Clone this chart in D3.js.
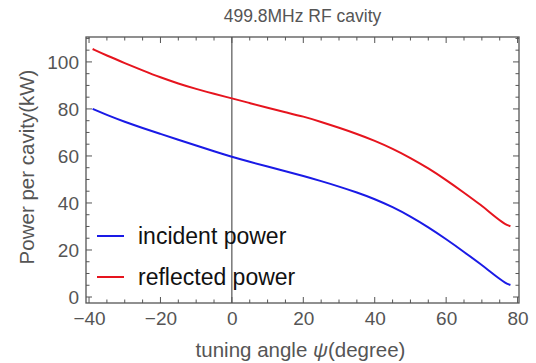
<!DOCTYPE html>
<html><head><meta charset="utf-8">
<script src="https://cdn.jsdelivr.net/npm/d3@7"></script>
<style>html,body{margin:0;padding:0;background:#fff;} svg{display:block;}</style>
</head><body>
<script>
const angles    = [-39, -35, -30, -25, -20, -15, -10, -5, 0, 5, 10, 15, 20, 25, 30, 35, 40, 45, 50, 55, 60, 65, 70, 72, 74, 76, 77, 78];
const incident  = [80, 77.4, 74.5, 71.9, 69.4, 66.9, 64.4, 62, 59.6, 57.5, 55.5, 53.5, 51.5, 49.3, 47, 44.5, 41.7, 38.3, 34.3, 29.7, 24.6, 19.2, 13.6, 11.2, 8.8, 6.6, 5.6, 5.1];
const reflected = [105.5, 102.7, 99.5, 96.4, 93.4, 90.8, 88.5, 86.4, 84.5, 82.5, 80.5, 78.6, 76.8, 74.5, 72, 69.4, 66.5, 63.1, 59.2, 54.8, 49.8, 44.4, 38.8, 36.3, 33.8, 31.5, 30.6, 30.1];
const xTickValues = [-40, -20, 0, 20, 40, 60, 80];
const yTickValues = [0, 20, 40, 60, 80, 100];
const seriesNames = ["incident power", "reflected power"];
const seriesColors = ["#1a1ae6", "#e6141e"];

const W = 536, H = 363;
const L = 86, R = 519, T = 37, B = 303;
const svg = d3.select("body").append("svg").attr("width", W).attr("height", H);
const x = d3.scaleLinear().domain([-40.85, 80.4]).range([L, R]);
const y = d3.scaleLinear().domain([-2.55, 110.6]).range([B, T]);
const gray = "#555";
const font = "'Liberation Sans', Arial, Helvetica, sans-serif";

// vertical line at 0
svg.append("line").attr("x1", x(0)).attr("x2", x(0)).attr("y1", T).attr("y2", B)
  .attr("stroke", "#333").attr("stroke-width", 1);

const line = d3.line().x((d, i) => x(angles[i])).y(d => y(d)).curve(d3.curveBasis);
[incident, reflected].forEach((s, k) => {
  svg.append("path").attr("d", line(s)).attr("fill", "none")
    .attr("stroke", seriesColors[k]).attr("stroke-width", 2);
});

// frame ticks
const minorX = d3.range(-40, 81, 5);
const minorY = d3.range(0, 111, 5);
const tk = svg.append("g").attr("stroke", gray).attr("stroke-width", 1);
minorX.forEach(v => {
  const len = xTickValues.includes(v) ? 6 : 3.5;
  tk.append("line").attr("x1", x(v)).attr("x2", x(v)).attr("y1", B).attr("y2", B - len);
  tk.append("line").attr("x1", x(v)).attr("x2", x(v)).attr("y1", T).attr("y2", T + len);
});
minorY.forEach(v => {
  const len = yTickValues.includes(v) ? 6 : 3.5;
  tk.append("line").attr("y1", y(v)).attr("y2", y(v)).attr("x1", L).attr("x2", L + len);
  tk.append("line").attr("y1", y(v)).attr("y2", y(v)).attr("x1", R).attr("x2", R - len);
});
svg.append("rect").attr("x", L).attr("y", T).attr("width", R - L).attr("height", B - T)
  .attr("fill", "none").attr("stroke", gray).attr("stroke-width", 1.3);

// tick labels via d3 axes (no lines)
const xa = svg.append("g").attr("transform", `translate(0,${B})`)
  .call(d3.axisBottom(x).tickValues(xTickValues).tickSize(0).tickPadding(9)
    .tickFormat(d => d < 0 ? "\u2212" + Math.abs(d) : d));
const ya = svg.append("g").attr("transform", `translate(${L},0)`)
  .call(d3.axisLeft(y).tickValues(yTickValues).tickSize(0).tickPadding(7));
[xa, ya].forEach(g => {
  g.select(".domain").remove();
  g.selectAll("text").attr("fill", gray).style("font-family", font).style("font-size", "19px");
});

svg.append("text").attr("x", (L + R) / 2).attr("y", 22).attr("text-anchor", "middle")
  .attr("fill", gray).style("font-family", font).style("font-size", "17.5px").text("499.8MHz RF cavity");

const xl = svg.append("text").attr("x", (L + R) / 2 - 2).attr("y", 357).attr("text-anchor", "middle")
  .attr("fill", gray).style("font-family", font).style("font-size", "20.5px");
xl.append("tspan").text("tuning angle ");
xl.append("tspan").style("font-style", "italic").text("\u03c8");
xl.append("tspan").text("(degree)");

svg.append("text").attr("transform", `translate(34,${(T + B) / 2 - 3}) rotate(-90)`)
  .attr("text-anchor", "middle").attr("fill", gray)
  .style("font-family", font).style("font-size", "20.5px").text("Power per cavity(kW)");

// legend
const legY = [236, 277];
seriesNames.forEach((n, k) => {
  svg.append("line").attr("x1", 97).attr("x2", 124).attr("y1", legY[k]).attr("y2", legY[k])
    .attr("stroke", seriesColors[k]).attr("stroke-width", 2);
  svg.append("text").attr("x", 138).attr("y", legY[k] + 8).attr("fill", "#111")
    .style("font-family", font).style("font-size", "23px").text(n);
});
</script>
</body></html>
